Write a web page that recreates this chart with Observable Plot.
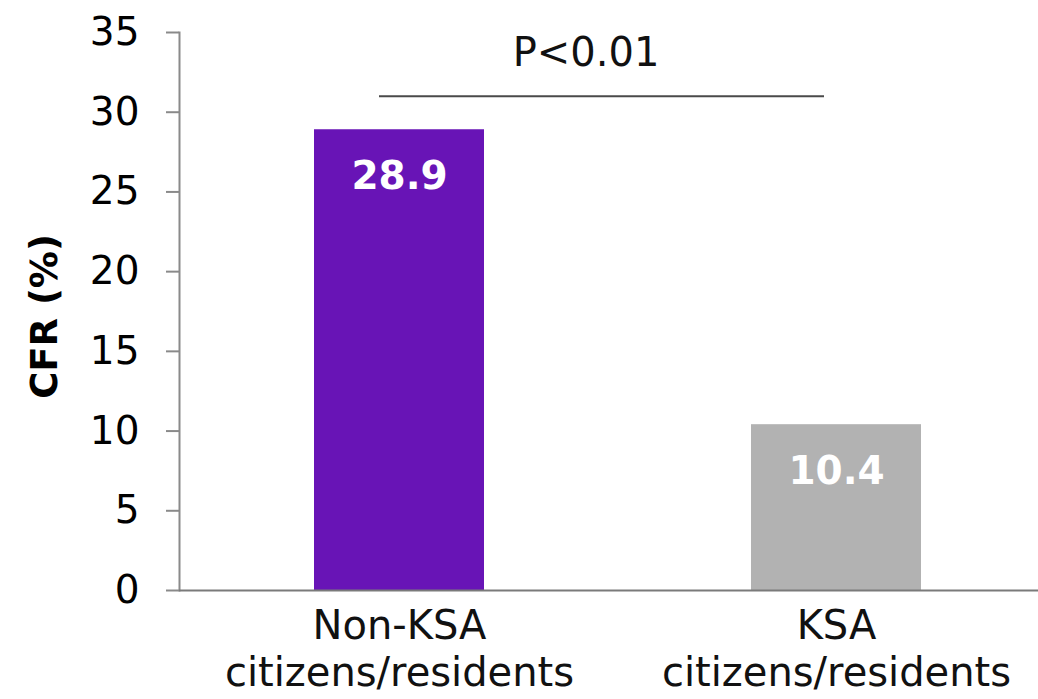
<!DOCTYPE html>
<html>
<head>
<meta charset="utf-8">
<script src="https://cdn.jsdelivr.net/npm/d3@7"></script>
<script src="https://cdn.jsdelivr.net/npm/@observablehq/plot@0.6"></script>
<style>
  html, body { margin: 0; padding: 0; background: #fff; }
  #chart svg { display: block; }
</style>
</head>
<body>
<div id="chart"></div>
<script>
// Case fatality rate by residency status
const categories = ["Non-KSA\ncitizens/residents", "KSA\ncitizens/residents"];
const cfrValues = [28.9, 10.4];
const barColors = ["#6814b6", "#b2b2b2"];
const yTicks = [0, 5, 10, 15, 20, 25, 30, 35];
const yLabel = "CFR (%)";
const pText = "P<0.01";
const pLevel = 31; // height of the significance bracket, in CFR units

const rows = categories.map((c, i) => ({ group: c, cfr: cfrValues[i], color: barColors[i] }));

const font = "'DejaVu Sans', Verdana, sans-serif";

const chart = Plot.plot({
  width: 1038,
  height: 699,
  marginLeft: 179,
  marginRight: 0,
  marginTop: 32,
  marginBottom: 109,
  style: { fontFamily: font, fontSize: "40px", color: "#000", background: "#fff" },
  x: { domain: categories, paddingInner: 0.611, paddingOuter: 0.287, align: 0.537, axis: null },
  y: { domain: [0, 35], axis: null },
  marks: [
    Plot.barY(rows, { x: "group", y: "cfr", fill: "color" }),
    // value labels inside the bars
    Plot.text(rows, {
      x: "group", y: "cfr", text: d => d.cfr.toFixed(1),
      dy: 47, lineAnchor: "middle", fill: "#fff", fontWeight: "bold", fontSize: 39
    }),
    // y axis line, ticks and labels
    Plot.frame({ anchor: "left", stroke: "#8a8a8a", strokeWidth: 2 }),
    Plot.axisY({
      ticks: yTicks, tickSize: 13, tickPadding: 27, stroke: "#8a8a8a", strokeWidth: 2,
      fill: "#000", fontSize: 39, label: null
    }),
    Plot.ruleY([0], { stroke: "#7a7a7a", strokeWidth: 2 }),
    // category labels
    Plot.text(categories, {
      x: d => d, text: d => d, frameAnchor: "bottom", lineAnchor: "top",
      dy: 15, lineHeight: 1.17, fill: "#111", fontSize: 40
    }),
    // y axis title
    Plot.text([yLabel], {
      text: d => d, frameAnchor: "left", textAnchor: "middle", rotate: -90, dx: -134, dy: 5,
      fontWeight: "bold", fontSize: 37, fill: "#000"
    }),
    // significance bracket
    Plot.ruleY([pLevel], {
      x1: () => categories[0], x2: () => categories[1],
      insetLeft: 65, insetRight: 97,
      stroke: "#4a4a4a", strokeWidth: 2
    }),
    Plot.text([pText], {
      y: () => pLevel, text: d => d, lineAnchor: "bottom", dy: -30, dx: -23,
      fill: "#111", fontSize: 40
    })
  ]
});

document.getElementById("chart").appendChild(chart);
</script>
</body>
</html>
